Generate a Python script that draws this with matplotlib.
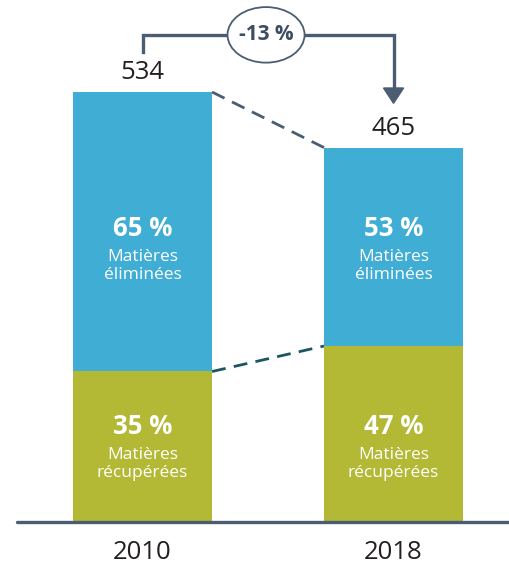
import matplotlib.pyplot as plt
from matplotlib.patches import Ellipse, Polygon

years = ["2010", "2018"]
totals = [534, 465]
share_eliminated = [65, 53]
share_recovered = [35, 47]
label_eliminated = "Matières\néliminées"
label_recovered = "Matières\nrécupérées"

BLUE = "#3fadd4"
GREEN = "#b3b835"
SLATE = "#4b5d72"
TEAL = "#1d5563"
INK = "#231f20"

plt.rcParams['font.family'] = ['Open Sans', 'DejaVu Sans']

fig = plt.figure(figsize=(5.10, 5.69), dpi=100)
ax = fig.add_axes([0, 0, 1, 1])
ax.set_xlim(-0.568, 1.464)
ax.set_ylim(-58.4, 648.3)
ax.axis('off')

x = [0, 1]
w = 0.554
recovered = [t * s / 100 for t, s in zip(totals, share_recovered)]
eliminated = [t - r for t, r in zip(totals, recovered)]

ax.bar(x, recovered, width=w, color=GREEN, zorder=2)
ax.bar(x, eliminated, width=w, bottom=recovered, color=BLUE, zorder=2)

# baseline
ax.axhline(0, xmin=0.033, xmax=1, color=SLATE, lw=2.4, solid_capstyle='round', zorder=3)

# dashed connectors
ax.plot([x[0] + w / 2, x[1] - w / 2], [totals[0], totals[1]],
        color=SLATE, lw=2, dashes=(5, 3), zorder=1)
ax.plot([x[0] + w / 2, x[1] - w / 2], [recovered[0], recovered[1]],
        color=TEAL, lw=2, dashes=(5, 3), zorder=1)

# totals and year labels
for xi, t, yr in zip(x, totals, years):
    ax.text(xi, t + 24, str(t), ha='center', va='center', fontsize=18.5, color=INK)
    ax.text(xi, -38, yr, ha='center', va='center', fontsize=18.5, color=INK)

# labels inside bars
for xi, se, sr in zip(x, share_eliminated, share_recovered):
    ax.text(xi, 365, f"{se} %", ha='center', va='center', fontsize=18.5,
            fontweight='bold', color='white', zorder=4)
    ax.text(xi, 318, label_eliminated, ha='center', va='center', fontsize=12.5,
            color='white', linespacing=1.2, zorder=4)
    ax.text(xi, 118, f"{sr} %", ha='center', va='center', fontsize=18.5,
            fontweight='bold', color='white', zorder=4)
    ax.text(xi, 72, label_recovered, ha='center', va='center', fontsize=12.5,
            color='white', linespacing=1.2, zorder=4)

# change bracket with arrow
top = 605
ax.plot([x[0], x[0], x[1], x[1]], [totals[0] + 50, top, top, totals[1] + 72],
        color=SLATE, lw=2.4, solid_joinstyle='miter', zorder=3)
ax.add_patch(Polygon([[x[1] - 0.04, totals[1] + 74], [x[1] + 0.04, totals[1] + 74],
                      [x[1], totals[1] + 55]], closed=True, color=SLATE, zorder=3))

change = round((totals[1] - totals[0]) / totals[0] * 100)
ax.add_patch(Ellipse((0.492, top), 0.307, 69, facecolor='white',
                     edgecolor=SLATE, lw=1.3, zorder=4))
ax.text(0.492, top, f"{change} %", ha='center', va='center', fontsize=15,
        fontweight='bold', color="#3d4e62", zorder=5)

fig.savefig("out.png", dpi=100)
